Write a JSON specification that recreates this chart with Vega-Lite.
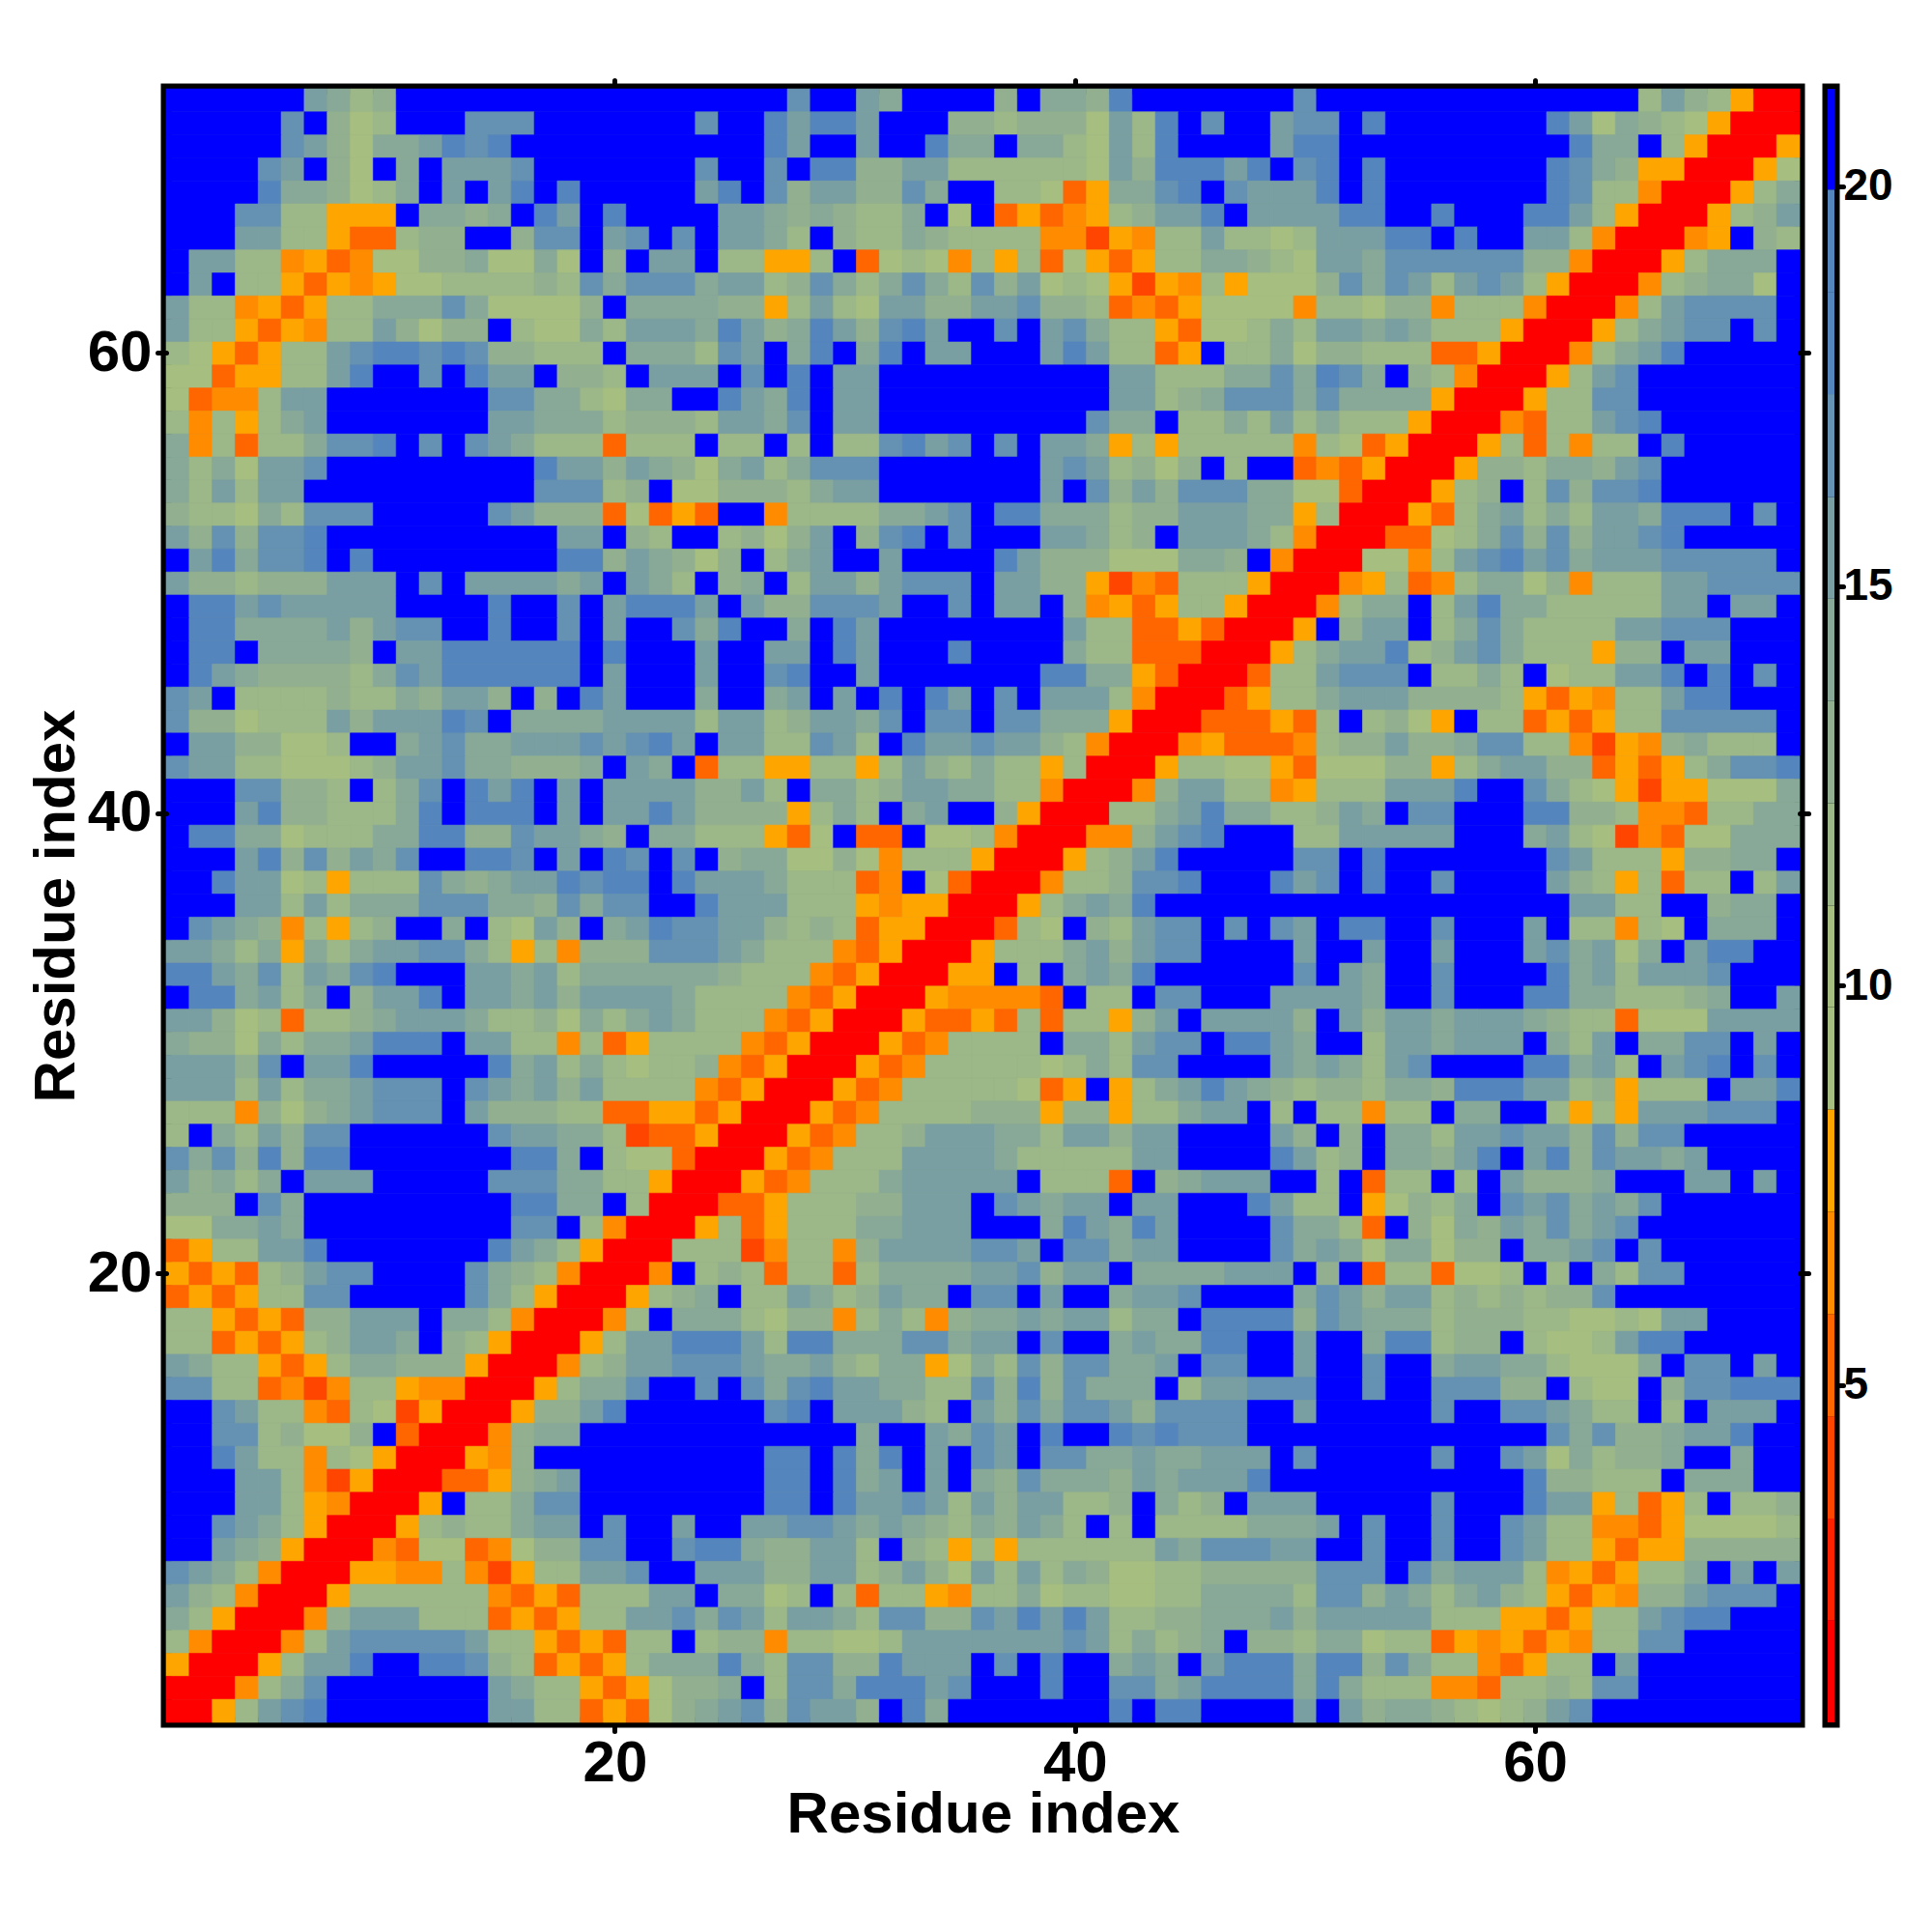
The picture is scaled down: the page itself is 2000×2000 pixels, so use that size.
{"$schema":"https://vega.github.io/schema/vega-lite/v6.json","padding":{"left":22,"top":75,"right":30,"bottom":60},"background":"white","config":{"font":"Liberation Sans"},"bounds":"flush","spacing":29,"hconcat":[{"width":1691,"height":1691,"view":{"stroke":"black","strokeWidth":11,"fill":"#88A997"},"resolve":{"axis":{"x":"independent","y":"independent"}},"layer":[{"data":{"values":"a,b,r,v\n1,7,71,21\n7,8,71,15\n8,9,71,14\n9,10,71,12\n10,11,71,13\n11,28,71,21\n28,29,71,17\n29,31,71,21\n31,32,71,15\n32,33,71,14\n33,37,71,21\n37,38,71,13\n38,39,71,21\n39,41,71,14\n41,42,71,13\n42,43,71,18\n43,50,71,21\n50,51,71,17\n51,65,71,21\n65,66,71,12\n66,67,71,15\n67,68,71,13\n68,69,71,11\n69,70,71,8\n70,72,71,1\n1,6,70,21\n6,7,70,17\n7,8,70,21\n8,9,70,13\n9,10,70,10\n10,11,70,12\n11,14,70,21\n14,17,70,17\n17,24,70,21\n24,25,70,17\n25,27,70,21\n27,28,70,18\n28,29,70,15\n29,31,70,18\n31,32,70,15\n32,35,70,21\n35,37,70,13\n37,38,70,12\n38,41,70,13\n41,42,70,10\n42,43,70,15\n43,44,70,11\n44,45,70,18\n45,46,70,21\n46,47,70,17\n47,49,70,21\n49,50,70,15\n50,52,70,17\n52,53,70,21\n53,54,70,18\n54,61,70,21\n61,62,70,18\n62,63,70,15\n63,64,70,10\n64,65,70,14\n65,66,70,13\n66,67,70,12\n67,68,70,10\n68,69,70,8\n69,72,70,1\n1,6,69,21\n6,7,69,17\n7,8,69,15\n8,9,69,13\n9,10,69,10\n10,12,69,14\n12,13,69,15\n13,14,69,18\n14,15,69,17\n15,16,69,18\n16,27,69,21\n27,28,69,18\n28,29,69,16\n29,31,69,21\n31,32,69,15\n32,34,69,21\n34,35,69,18\n35,37,69,14\n37,38,69,21\n38,40,69,14\n40,41,69,12\n41,42,69,10\n42,43,69,15\n43,44,69,11\n44,45,69,18\n45,49,69,21\n49,50,69,16\n50,52,69,18\n52,62,69,21\n62,63,69,18\n63,65,69,14\n65,66,69,21\n66,67,69,11\n67,68,69,8\n68,71,69,1\n71,72,69,8\n1,5,68,21\n5,6,68,17\n6,7,68,15\n7,8,68,21\n8,9,68,13\n9,10,68,10\n10,11,68,21\n11,12,68,14\n12,13,68,21\n13,15,68,15\n15,16,68,16\n16,17,68,17\n17,24,68,21\n24,25,68,17\n25,27,68,21\n27,28,68,17\n28,29,68,21\n29,31,68,18\n31,33,68,13\n33,35,68,16\n35,40,68,12\n40,41,68,11\n41,42,68,10\n42,43,68,15\n43,44,68,13\n44,47,68,18\n47,48,68,15\n48,49,68,18\n49,50,68,21\n50,51,68,17\n51,52,68,18\n52,53,68,21\n53,54,68,18\n54,61,68,21\n61,62,68,18\n62,63,68,17\n63,64,68,14\n64,65,68,13\n65,67,68,8\n67,70,68,1\n70,71,68,8\n71,72,68,10\n1,5,67,21\n5,6,67,18\n6,8,67,14\n8,9,67,13\n9,10,67,10\n10,11,67,12\n11,12,67,14\n12,13,67,21\n13,14,67,16\n14,15,67,21\n15,16,67,16\n16,17,67,18\n17,18,67,21\n18,19,67,18\n19,24,67,21\n24,25,67,16\n25,26,67,18\n26,27,67,21\n27,28,67,17\n28,29,67,13\n29,31,67,16\n31,33,67,13\n33,34,67,17\n34,35,67,14\n35,37,67,21\n37,39,67,11\n39,40,67,10\n40,41,67,5\n41,42,67,8\n42,44,67,14\n44,45,67,17\n45,46,67,18\n46,47,67,21\n47,48,67,17\n48,49,67,16\n49,50,67,15\n50,51,67,16\n51,52,67,18\n52,53,67,21\n53,54,67,18\n54,61,67,21\n61,62,67,18\n62,63,67,17\n63,64,67,12\n64,65,67,11\n65,66,67,7\n66,69,67,1\n69,70,67,8\n70,71,67,11\n71,72,67,14\n1,4,66,21\n4,6,66,17\n6,8,66,12\n8,11,66,8\n11,12,66,21\n12,14,66,14\n14,15,66,13\n15,16,66,14\n16,17,66,21\n17,18,66,18\n18,19,66,16\n19,20,66,21\n20,21,66,18\n21,25,66,21\n25,27,66,16\n27,28,66,14\n28,29,66,13\n29,30,66,14\n30,31,66,13\n31,33,66,11\n33,34,66,14\n34,35,66,21\n35,36,66,10\n36,37,66,21\n37,38,66,5\n38,39,66,8\n39,40,66,5\n40,41,66,7\n41,42,66,8\n42,43,66,12\n43,44,66,13\n44,46,66,16\n46,47,66,18\n47,48,66,21\n48,49,66,16\n49,51,66,15\n51,52,66,16\n52,54,66,18\n54,56,66,21\n56,57,66,18\n57,60,66,21\n60,62,66,18\n62,63,66,16\n63,64,66,11\n64,65,66,8\n65,68,66,1\n68,69,66,8\n69,70,66,11\n70,71,66,13\n71,72,66,15\n1,4,65,21\n4,5,65,16\n5,6,65,15\n6,7,65,12\n7,8,65,11\n8,9,65,8\n9,11,65,5\n11,12,65,12\n12,14,65,13\n14,16,65,21\n16,17,65,13\n17,19,65,17\n19,20,65,21\n20,21,65,16\n21,22,65,17\n22,23,65,21\n23,24,65,17\n24,25,65,21\n25,27,65,15\n27,28,65,14\n28,29,65,11\n29,30,65,21\n30,31,65,13\n31,33,65,11\n33,34,65,14\n34,35,65,13\n35,36,65,12\n36,39,65,11\n39,41,65,7\n41,42,65,4\n42,43,65,8\n43,44,65,7\n44,46,65,12\n46,47,65,15\n47,49,65,12\n49,50,65,10\n50,51,65,12\n51,52,65,15\n52,54,65,16\n54,56,65,18\n56,57,65,21\n57,58,65,18\n58,60,65,21\n60,61,65,16\n61,62,65,15\n62,63,65,11\n63,64,65,7\n64,67,65,1\n67,68,65,7\n68,69,65,8\n69,70,65,21\n70,71,65,13\n71,72,65,12\n1,2,64,21\n2,4,64,16\n4,6,64,11\n6,7,64,7\n7,8,64,8\n8,9,64,5\n9,10,64,7\n10,12,64,10\n12,14,64,13\n14,15,64,14\n15,17,64,10\n17,18,64,14\n18,19,64,10\n19,20,64,21\n20,21,64,13\n21,22,64,21\n22,23,64,16\n23,24,64,15\n24,25,64,21\n25,27,64,12\n27,29,64,8\n29,30,64,11\n30,31,64,21\n31,32,64,5\n32,33,64,10\n33,34,64,11\n34,35,64,10\n35,36,64,7\n36,37,64,11\n37,38,64,8\n38,39,64,11\n39,40,64,5\n40,41,64,10\n41,42,64,8\n42,43,64,5\n43,44,64,8\n44,46,64,11\n46,48,64,14\n48,49,64,13\n49,50,64,11\n50,51,64,10\n51,53,64,15\n53,54,64,14\n54,60,64,17\n60,62,64,13\n62,63,64,7\n63,66,64,1\n66,67,64,8\n67,68,64,12\n68,71,64,14\n71,72,64,21\n1,2,63,21\n2,3,63,16\n3,4,63,21\n4,5,63,12\n5,6,63,11\n6,7,63,8\n7,8,63,5\n8,9,63,8\n9,10,63,7\n10,11,63,8\n11,13,63,10\n13,17,63,11\n17,18,63,13\n18,19,63,12\n19,20,63,17\n20,21,63,14\n21,24,63,17\n24,25,63,14\n25,27,63,16\n27,28,63,12\n28,29,63,13\n29,30,63,17\n30,31,63,14\n31,32,63,11\n32,33,63,14\n33,34,63,17\n34,35,63,14\n35,36,63,12\n36,37,63,17\n37,38,63,13\n38,39,63,16\n39,40,63,10\n40,41,63,12\n41,42,63,10\n42,43,63,8\n43,44,63,4\n44,45,63,8\n45,46,63,7\n46,47,63,12\n47,48,63,8\n48,51,63,10\n51,52,63,13\n52,53,63,17\n53,54,63,14\n54,55,63,17\n55,56,63,15\n56,57,63,12\n57,58,63,15\n58,59,63,17\n59,60,63,15\n60,61,63,11\n61,62,63,8\n62,65,63,1\n65,66,63,7\n66,67,63,12\n67,68,63,13\n68,70,63,14\n70,71,63,10\n71,72,63,21\n1,2,62,16\n2,4,62,12\n4,5,62,7\n5,6,62,8\n6,7,62,5\n7,8,62,8\n8,10,62,12\n10,13,62,14\n13,14,62,17\n14,15,62,14\n15,19,62,10\n19,20,62,13\n20,21,62,21\n21,25,62,14\n25,27,62,13\n27,28,62,8\n28,29,62,11\n29,30,62,15\n30,31,62,12\n31,32,62,10\n32,34,62,15\n34,36,62,13\n36,37,62,16\n37,38,62,15\n38,39,62,17\n39,41,62,13\n41,42,62,11\n42,43,62,5\n43,44,62,7\n44,45,62,5\n45,46,62,8\n46,50,62,10\n50,51,62,7\n51,53,62,12\n53,54,62,10\n54,56,62,13\n56,57,62,7\n57,58,62,11\n58,59,62,12\n59,60,62,11\n60,61,62,7\n61,64,62,1\n64,65,62,7\n65,66,62,11\n66,67,62,15\n67,71,62,17\n71,72,62,21\n1,2,61,15\n2,3,61,12\n3,4,61,11\n4,5,61,8\n5,6,61,5\n6,7,61,8\n7,8,61,7\n8,10,61,12\n10,11,61,15\n11,12,61,13\n12,13,61,10\n13,15,61,13\n15,16,61,21\n16,17,61,12\n17,19,61,10\n19,20,61,14\n20,21,61,11\n21,24,61,16\n24,25,61,14\n25,26,61,18\n26,27,61,15\n27,28,61,13\n28,29,61,14\n29,30,61,18\n30,31,61,15\n31,32,61,13\n32,33,61,17\n33,34,61,18\n34,35,61,15\n35,37,61,21\n37,38,61,17\n38,39,61,21\n39,40,61,15\n40,41,61,17\n41,42,61,14\n42,44,61,12\n44,45,61,8\n45,46,61,5\n46,48,61,10\n48,49,61,12\n49,50,61,14\n50,51,61,12\n51,53,61,16\n53,54,61,14\n54,55,61,16\n55,56,61,14\n56,59,61,11\n59,60,61,8\n60,63,61,1\n63,64,61,8\n64,65,61,12\n65,66,61,14\n66,67,61,16\n67,69,61,17\n69,70,61,21\n70,71,61,17\n71,72,61,21\n1,2,60,11\n2,3,60,10\n3,4,60,8\n4,5,60,5\n5,6,60,8\n6,8,60,11\n8,9,60,15\n9,10,60,17\n10,12,60,18\n12,13,60,17\n13,14,60,18\n14,15,60,17\n15,17,60,13\n17,20,60,11\n20,21,60,21\n21,24,60,14\n24,25,60,12\n25,26,60,17\n26,27,60,15\n27,28,60,21\n28,29,60,14\n29,30,60,18\n30,31,60,21\n31,32,60,14\n32,33,60,18\n33,34,60,21\n34,36,60,16\n36,39,60,21\n39,40,60,15\n40,41,60,18\n41,42,60,15\n42,44,60,12\n44,45,60,5\n45,46,60,8\n46,47,60,21\n47,48,60,12\n48,49,60,11\n49,50,60,14\n50,51,60,10\n51,53,60,13\n53,56,60,12\n56,58,60,5\n58,59,60,8\n59,62,60,1\n62,63,60,7\n63,64,60,11\n64,65,60,14\n65,66,60,16\n66,67,60,18\n67,72,60,21\n1,3,59,10\n3,4,59,5\n4,6,59,8\n6,8,59,12\n8,9,59,16\n9,10,59,18\n10,12,59,21\n12,13,59,17\n13,14,59,21\n14,15,59,18\n15,17,59,15\n17,18,59,21\n18,20,59,13\n20,21,59,11\n21,22,59,21\n22,25,59,16\n25,26,59,21\n26,27,59,17\n27,28,59,21\n28,29,59,18\n29,30,59,21\n30,32,59,16\n32,42,59,21\n42,44,59,15\n44,47,59,11\n47,49,59,14\n49,50,59,17\n50,51,59,14\n51,52,59,18\n52,53,59,17\n53,54,59,14\n54,55,59,21\n55,56,59,13\n56,57,59,11\n57,58,59,7\n58,61,59,1\n61,62,59,8\n62,63,59,11\n63,64,59,15\n64,65,59,17\n65,72,59,21\n1,2,58,10\n2,3,58,5\n3,5,58,7\n5,6,58,11\n6,7,58,15\n7,8,58,16\n8,15,58,21\n15,17,58,17\n17,19,58,14\n19,20,58,12\n20,21,58,10\n21,23,58,14\n23,25,58,21\n25,26,58,18\n26,27,58,15\n27,28,58,14\n28,29,58,18\n29,30,58,21\n30,32,58,16\n32,42,58,21\n42,44,58,16\n44,45,58,12\n45,46,58,13\n46,47,58,14\n47,50,58,17\n50,51,58,14\n51,52,58,17\n52,56,58,14\n56,57,58,8\n57,60,58,1\n60,61,58,8\n61,63,58,12\n63,65,58,17\n65,72,58,21\n1,2,57,11\n2,3,57,7\n3,4,57,11\n4,5,57,8\n5,6,57,12\n6,7,57,14\n7,8,57,16\n8,15,57,21\n15,17,57,16\n17,20,57,14\n20,21,57,11\n21,24,57,13\n24,25,57,12\n25,27,57,16\n27,28,57,14\n28,29,57,17\n29,30,57,21\n30,32,57,16\n32,41,57,21\n41,42,57,17\n42,44,57,14\n44,45,57,21\n45,47,57,11\n47,48,57,14\n48,49,57,12\n49,50,57,16\n50,51,57,12\n51,52,57,14\n52,55,57,12\n55,56,57,8\n56,59,57,1\n59,60,57,7\n60,61,57,5\n61,63,57,11\n63,64,57,15\n64,65,57,17\n65,66,57,18\n66,72,57,21\n1,2,56,14\n2,3,56,7\n3,4,56,11\n4,5,56,5\n5,7,56,11\n7,8,56,14\n8,10,56,17\n10,11,56,18\n11,12,56,21\n12,13,56,17\n13,14,56,21\n14,15,56,17\n15,16,56,15\n16,17,56,14\n17,20,56,12\n20,21,56,5\n21,24,56,11\n24,25,56,21\n25,27,56,12\n27,28,56,21\n28,29,56,12\n29,30,56,21\n30,32,56,12\n32,33,56,17\n33,34,56,18\n34,35,56,15\n35,36,56,17\n36,37,56,21\n37,38,56,17\n38,39,56,21\n39,41,56,16\n41,42,56,14\n42,43,56,8\n43,44,56,12\n44,45,56,8\n45,50,56,12\n50,51,56,7\n51,52,56,11\n52,53,56,10\n53,54,56,5\n54,55,56,8\n55,58,56,1\n58,59,56,8\n59,60,56,11\n60,61,56,5\n61,62,56,11\n62,63,56,7\n63,65,56,12\n65,66,56,21\n66,67,56,18\n67,72,56,21\n1,2,55,14\n2,3,55,11\n3,4,55,14\n4,5,55,10\n5,7,55,16\n7,8,55,17\n8,17,55,21\n17,18,55,18\n18,20,55,16\n20,21,55,13\n21,22,55,15\n22,23,55,14\n23,24,55,13\n24,25,55,10\n25,26,55,14\n26,27,55,15\n27,28,55,12\n28,29,55,14\n29,32,55,17\n32,39,55,21\n39,40,55,16\n40,41,55,17\n41,42,55,15\n42,43,55,12\n43,44,55,13\n44,45,55,10\n45,46,55,13\n46,47,55,21\n47,48,55,12\n48,50,55,21\n50,51,55,5\n51,52,55,7\n52,53,55,5\n53,54,55,8\n54,57,55,1\n57,58,55,8\n58,60,55,13\n60,61,55,11\n61,63,55,14\n63,64,55,13\n64,65,55,16\n65,66,55,17\n66,72,55,21\n1,2,54,14\n2,3,54,11\n3,4,54,16\n4,5,54,12\n5,7,54,16\n7,17,54,21\n17,20,54,17\n20,21,54,12\n21,22,54,13\n22,23,54,21\n23,25,54,10\n25,28,54,13\n28,29,54,11\n29,30,54,14\n30,32,54,16\n32,39,54,21\n39,40,54,16\n40,41,54,21\n41,42,54,17\n42,43,54,13\n43,44,54,16\n44,45,54,13\n45,48,54,17\n48,50,54,14\n50,52,54,10\n52,53,54,5\n53,56,54,1\n56,57,54,8\n57,58,54,11\n58,59,54,13\n59,60,54,21\n60,61,54,12\n61,62,54,17\n62,63,54,13\n63,65,54,17\n65,66,54,18\n66,72,54,21\n1,2,53,13\n2,3,53,11\n3,4,53,12\n4,5,53,10\n5,6,53,14\n6,7,53,12\n7,10,53,17\n10,15,53,21\n15,16,53,17\n16,17,53,15\n17,20,53,13\n20,21,53,5\n21,22,53,10\n22,23,53,5\n23,24,53,8\n24,25,53,5\n25,27,53,21\n27,28,53,7\n28,29,53,11\n29,32,53,12\n32,34,53,14\n34,35,53,16\n35,36,53,17\n36,37,53,21\n37,39,53,18\n39,42,53,14\n42,43,53,11\n43,45,53,13\n45,48,53,16\n48,50,53,14\n50,51,53,8\n51,52,53,11\n52,55,53,1\n55,56,53,8\n56,57,53,5\n57,58,53,12\n58,59,53,14\n59,60,53,16\n60,61,53,12\n61,62,53,14\n62,63,53,11\n63,65,53,15\n65,66,53,14\n66,69,53,18\n69,70,53,21\n70,71,53,17\n71,72,53,21\n1,2,52,16\n2,3,52,13\n3,4,52,17\n4,5,52,13\n5,7,52,17\n7,8,52,18\n8,18,52,21\n18,20,52,16\n20,21,52,21\n21,22,52,13\n22,23,52,11\n23,25,52,21\n25,26,52,11\n26,27,52,13\n27,28,52,10\n28,29,52,13\n29,30,52,15\n30,31,52,21\n31,32,52,13\n32,33,52,17\n33,34,52,18\n34,35,52,21\n35,36,52,17\n36,39,52,21\n39,41,52,16\n41,42,52,14\n42,43,52,11\n43,44,52,13\n44,45,52,21\n45,48,52,16\n48,49,52,14\n49,50,52,12\n50,51,52,7\n51,54,52,1\n54,56,52,5\n56,57,52,10\n57,58,52,12\n58,59,52,14\n59,60,52,17\n60,61,52,13\n61,62,52,17\n62,63,52,13\n63,64,52,16\n64,65,52,15\n65,66,52,17\n66,67,52,18\n67,72,52,21\n1,2,51,21\n2,3,51,16\n3,4,51,18\n4,5,51,14\n5,7,51,17\n7,8,51,18\n8,9,51,21\n9,10,51,18\n10,18,51,21\n18,20,51,18\n20,21,51,13\n21,22,51,16\n22,23,51,14\n23,24,51,13\n24,25,51,10\n25,26,51,13\n26,27,51,21\n27,28,51,11\n28,29,51,14\n29,30,51,16\n30,32,51,21\n32,33,51,16\n33,37,51,21\n37,38,51,18\n38,39,51,16\n39,42,51,13\n42,45,51,10\n45,47,51,14\n47,48,51,13\n48,49,51,21\n49,50,51,7\n50,53,51,1\n53,55,51,10\n55,56,51,7\n56,57,51,11\n57,58,51,15\n58,59,51,17\n59,60,51,18\n60,61,51,15\n61,62,51,17\n62,63,51,14\n63,66,51,16\n66,71,51,17\n71,72,51,21\n1,2,50,16\n2,4,50,13\n4,5,50,11\n5,8,50,13\n8,11,50,15\n11,12,50,21\n12,13,50,17\n13,14,50,21\n14,18,50,16\n18,19,50,14\n19,20,50,16\n20,21,50,21\n21,22,50,15\n22,23,50,14\n23,24,50,12\n24,25,50,21\n25,26,50,13\n26,27,50,14\n27,28,50,21\n28,29,50,11\n29,31,50,15\n31,32,50,13\n32,33,50,16\n33,36,50,17\n36,37,50,21\n37,39,50,16\n39,41,50,13\n41,42,50,8\n42,43,50,4\n43,44,50,7\n44,45,50,5\n45,47,50,12\n47,48,50,11\n48,49,50,8\n49,52,50,1\n52,53,50,7\n53,54,50,8\n54,55,50,11\n55,56,50,5\n56,57,50,7\n57,58,50,12\n58,60,50,14\n60,61,50,10\n61,62,50,13\n62,63,50,7\n63,66,50,11\n66,68,50,16\n68,72,50,17\n1,2,49,21\n2,4,49,18\n4,5,49,15\n5,6,49,17\n6,11,49,15\n11,15,49,21\n15,16,49,18\n16,18,49,21\n18,19,49,17\n19,20,49,21\n20,21,49,15\n21,24,49,18\n24,25,49,16\n25,26,49,21\n26,27,49,16\n27,29,49,13\n29,32,49,17\n32,33,49,15\n33,35,49,21\n35,36,49,17\n36,37,49,21\n37,39,49,16\n39,40,49,21\n40,41,49,13\n41,42,49,7\n42,43,49,8\n43,44,49,5\n44,45,49,8\n45,46,49,12\n46,47,49,11\n47,48,49,8\n48,51,49,1\n51,52,49,7\n52,53,49,11\n53,55,49,14\n55,56,49,21\n56,57,49,12\n57,58,49,16\n58,59,49,18\n59,61,49,14\n61,66,49,11\n66,68,49,15\n68,69,49,21\n69,71,49,16\n71,72,49,21\n1,2,48,21\n2,4,48,18\n4,8,48,14\n8,9,48,16\n9,10,48,13\n10,11,48,15\n11,13,48,17\n13,15,48,21\n15,16,48,18\n16,18,48,21\n18,19,48,17\n19,20,48,21\n20,21,48,15\n21,23,48,21\n23,24,48,17\n24,25,48,14\n25,26,48,18\n26,28,48,21\n28,29,48,14\n29,30,48,21\n30,31,48,18\n31,32,48,15\n32,40,48,21\n40,41,48,15\n41,43,48,12\n43,45,48,5\n45,46,48,8\n46,47,48,5\n47,50,48,1\n50,51,48,8\n51,52,48,21\n52,53,48,13\n53,55,48,15\n55,56,48,21\n56,57,48,12\n57,58,48,14\n58,59,48,17\n59,60,48,14\n60,64,48,11\n64,66,48,15\n66,69,48,17\n69,72,48,21\n1,2,47,21\n2,4,47,18\n4,5,47,21\n5,9,47,14\n9,10,47,13\n10,11,47,21\n11,13,47,16\n13,19,47,18\n19,20,47,21\n20,21,47,18\n21,24,47,21\n24,25,47,16\n25,27,47,21\n27,29,47,15\n29,30,47,21\n30,31,47,18\n31,32,47,15\n32,35,47,21\n35,36,47,18\n36,40,47,21\n40,41,47,14\n41,43,47,12\n43,46,47,5\n46,49,47,1\n49,50,47,8\n50,51,47,11\n51,52,47,14\n52,54,47,16\n54,55,47,18\n55,56,47,12\n56,57,47,13\n57,58,47,15\n58,59,47,17\n59,60,47,14\n60,63,47,11\n63,64,47,8\n64,66,47,13\n66,67,47,21\n67,69,47,16\n69,72,47,21\n1,2,46,21\n2,3,46,18\n3,4,46,16\n4,5,46,14\n5,9,46,13\n9,10,46,12\n10,11,46,14\n11,12,46,17\n12,13,46,16\n13,19,46,18\n19,20,46,21\n20,21,46,16\n21,24,46,21\n24,25,46,16\n25,27,46,21\n27,28,46,17\n28,29,46,18\n29,31,46,21\n31,32,46,15\n32,39,46,21\n39,41,46,18\n41,43,46,14\n43,44,46,8\n44,45,46,5\n45,48,46,1\n48,49,46,5\n49,51,46,12\n51,52,46,15\n52,55,46,17\n55,56,46,21\n56,58,46,12\n58,59,46,14\n59,60,46,12\n60,61,46,21\n61,62,46,10\n62,64,46,12\n64,66,46,15\n66,67,46,18\n67,68,46,21\n68,69,46,18\n69,70,46,21\n70,71,46,17\n71,72,46,21\n1,2,45,17\n2,3,45,16\n3,4,45,21\n4,5,45,12\n5,6,45,11\n6,7,45,12\n7,8,45,11\n8,9,45,13\n9,11,45,12\n11,12,45,14\n12,13,45,13\n13,15,45,16\n15,16,45,13\n16,17,45,21\n17,18,45,13\n18,19,45,21\n19,20,45,18\n20,21,45,15\n21,24,45,21\n24,25,45,14\n25,27,45,21\n27,28,45,14\n28,29,45,16\n29,30,45,21\n30,31,45,15\n31,32,45,21\n32,33,45,18\n33,34,45,21\n34,35,45,18\n35,36,45,16\n36,37,45,21\n37,38,45,17\n38,39,45,21\n39,42,45,15\n42,43,45,12\n43,44,45,7\n44,47,45,1\n47,48,45,5\n48,49,45,8\n49,51,45,12\n51,52,45,14\n52,53,45,16\n53,54,45,15\n54,55,45,16\n55,59,45,13\n59,60,45,11\n60,61,45,8\n61,62,45,5\n62,63,45,8\n63,64,45,7\n64,66,45,12\n66,67,45,16\n67,69,45,18\n69,72,45,21\n1,2,44,17\n2,4,44,13\n4,5,44,10\n5,8,44,11\n8,9,44,16\n9,10,44,13\n10,12,44,15\n12,13,44,16\n13,14,44,18\n14,15,44,17\n15,16,44,21\n16,20,44,14\n20,24,44,15\n24,25,44,12\n25,27,44,16\n27,28,44,12\n28,29,44,13\n29,31,44,16\n31,32,44,14\n32,33,44,17\n33,34,44,21\n34,36,44,17\n36,37,44,21\n37,39,44,17\n39,42,44,14\n42,43,44,8\n43,46,44,1\n46,49,44,5\n49,50,44,8\n50,51,44,5\n51,52,44,11\n52,53,44,21\n53,54,44,12\n54,55,44,13\n55,56,44,10\n56,57,44,8\n57,58,44,21\n58,60,44,12\n60,61,44,5\n61,62,44,8\n62,63,44,5\n63,64,44,8\n64,66,44,11\n66,71,44,17\n71,72,44,21\n1,2,43,21\n2,4,43,16\n4,6,43,13\n6,8,43,10\n8,9,43,12\n9,11,43,21\n11,12,43,14\n12,13,43,15\n13,14,43,17\n14,16,43,14\n16,17,43,15\n17,18,43,16\n18,19,43,15\n19,20,43,17\n20,21,43,15\n21,22,43,17\n22,23,43,18\n23,24,43,16\n24,25,43,21\n25,27,43,16\n27,29,43,12\n29,30,43,17\n30,31,43,15\n31,32,43,11\n32,33,43,21\n33,34,43,18\n34,35,43,16\n35,36,43,15\n36,37,43,17\n37,39,43,15\n39,40,43,13\n40,41,43,11\n41,42,43,7\n42,45,43,1\n45,46,43,7\n46,47,43,8\n47,50,43,5\n50,51,43,7\n51,52,43,11\n52,54,43,13\n54,55,43,15\n55,57,43,13\n57,58,43,14\n58,60,43,17\n60,62,43,11\n62,63,43,7\n63,64,43,4\n64,65,43,8\n65,66,43,7\n66,67,43,13\n67,68,43,14\n68,70,43,12\n70,71,43,11\n71,72,43,21\n1,2,42,17\n2,3,42,16\n3,4,42,15\n4,6,42,11\n6,9,42,10\n9,10,42,12\n10,11,42,13\n11,13,42,16\n13,14,42,17\n14,16,42,14\n16,19,42,13\n19,20,42,14\n20,21,42,21\n21,22,42,15\n22,23,42,14\n23,24,42,21\n24,25,42,5\n25,27,42,12\n27,29,42,8\n29,31,42,12\n31,32,42,8\n32,33,42,11\n33,34,42,15\n34,35,42,13\n35,36,42,12\n36,37,42,14\n37,39,42,12\n39,40,42,8\n40,41,42,11\n41,44,42,1\n44,45,42,8\n45,47,42,12\n47,49,42,10\n49,50,42,8\n50,51,42,5\n51,54,42,10\n54,56,42,13\n56,57,42,8\n57,58,42,12\n58,59,42,14\n59,61,42,16\n61,63,42,13\n63,64,42,5\n64,65,42,8\n65,66,42,5\n66,67,42,8\n67,68,42,12\n68,69,42,14\n69,71,42,17\n71,72,42,18\n1,4,41,21\n4,6,41,17\n6,8,41,13\n8,9,41,12\n9,10,41,21\n10,11,41,12\n11,12,41,14\n12,13,41,17\n13,14,41,21\n14,15,41,18\n15,16,41,15\n16,17,41,18\n17,18,41,21\n18,19,41,15\n19,20,41,21\n20,24,41,16\n24,26,41,13\n26,27,41,15\n27,28,41,12\n28,29,41,21\n29,31,41,14\n31,32,41,12\n32,33,41,13\n33,35,41,16\n35,37,41,14\n37,39,41,12\n39,40,41,7\n40,43,41,1\n43,44,41,7\n44,45,41,13\n45,47,41,16\n47,49,41,12\n49,50,41,7\n50,51,41,8\n51,54,41,12\n54,57,41,15\n57,58,41,18\n58,60,41,21\n60,61,41,17\n61,62,41,14\n62,63,41,11\n63,64,41,10\n64,65,41,8\n65,66,41,4\n66,68,41,8\n68,71,41,10\n71,72,41,14\n1,4,40,21\n4,5,40,15\n5,6,40,18\n6,8,40,13\n8,10,40,11\n10,11,40,12\n11,12,40,14\n12,13,40,18\n13,14,40,21\n14,17,40,18\n17,18,40,21\n18,19,40,15\n19,20,40,21\n20,22,40,16\n22,23,40,18\n23,24,40,16\n24,28,40,13\n28,29,40,8\n29,30,40,12\n30,31,40,14\n31,32,40,12\n32,33,40,21\n33,34,40,14\n34,35,40,15\n35,37,40,21\n37,38,40,13\n38,39,40,8\n39,42,40,1\n42,44,40,11\n44,45,40,14\n45,46,40,16\n46,47,40,18\n47,49,40,14\n49,51,40,12\n51,52,40,13\n52,53,40,15\n53,54,40,14\n54,55,40,21\n55,57,40,17\n57,60,40,21\n60,62,40,18\n62,64,40,13\n64,65,40,11\n65,67,40,7\n67,68,40,5\n68,70,40,11\n70,72,40,14\n1,2,39,21\n2,4,39,18\n4,6,39,14\n6,7,39,10\n7,8,39,12\n8,9,39,11\n9,10,39,12\n10,12,39,14\n12,14,39,18\n14,16,39,13\n16,17,39,17\n17,19,39,16\n19,20,39,14\n20,21,39,13\n21,22,39,21\n22,24,39,14\n24,27,39,11\n27,28,39,8\n28,29,39,5\n29,30,39,10\n30,31,39,21\n31,33,39,5\n33,34,39,21\n34,36,39,10\n36,37,39,11\n37,38,39,7\n38,41,39,1\n41,43,39,7\n43,44,39,13\n44,45,39,15\n45,46,39,17\n46,47,39,18\n47,50,39,21\n50,52,39,12\n52,53,39,15\n53,57,39,16\n57,60,39,21\n60,61,39,14\n61,62,39,15\n62,63,39,12\n63,64,39,10\n64,65,39,4\n65,66,39,7\n66,67,39,5\n67,69,39,10\n69,72,39,14\n1,4,38,21\n4,5,38,16\n5,6,38,18\n6,7,38,13\n7,8,38,17\n8,9,38,13\n9,10,38,15\n10,11,38,14\n11,12,38,17\n12,14,38,21\n14,16,38,18\n16,17,38,17\n17,18,38,21\n18,19,38,16\n19,20,38,21\n20,21,38,18\n21,22,38,17\n22,23,38,21\n23,24,38,17\n24,25,38,21\n25,26,38,13\n26,28,38,14\n28,30,38,10\n30,31,38,13\n31,32,38,10\n32,33,38,7\n33,35,38,12\n35,36,38,11\n36,37,38,8\n37,40,38,1\n40,41,38,8\n41,42,38,11\n42,43,38,13\n43,44,38,15\n44,45,38,18\n45,50,38,21\n50,52,38,17\n52,53,38,21\n53,54,38,18\n54,61,38,21\n61,62,38,17\n62,63,38,15\n63,66,38,11\n66,67,38,8\n67,69,38,13\n69,71,38,14\n71,72,38,21\n1,3,37,21\n3,4,37,18\n4,5,37,16\n5,6,37,15\n6,7,37,10\n7,8,37,12\n8,9,37,8\n9,10,37,12\n10,12,37,11\n12,13,37,17\n13,14,37,14\n14,15,37,13\n15,16,37,14\n16,17,37,16\n17,18,37,15\n18,19,37,18\n19,20,37,17\n20,22,37,18\n22,23,37,21\n23,24,37,18\n24,25,37,16\n25,27,37,15\n27,28,37,14\n28,30,37,11\n30,31,37,12\n31,32,37,5\n32,33,37,7\n33,34,37,21\n34,35,37,10\n35,36,37,5\n36,39,37,1\n39,40,37,7\n40,41,37,11\n41,42,37,12\n42,43,37,13\n43,45,37,17\n45,46,37,18\n46,49,37,21\n49,50,37,18\n50,51,37,16\n51,52,37,17\n52,53,37,21\n53,54,37,18\n54,56,37,21\n56,57,37,17\n57,61,37,21\n61,62,37,15\n62,63,37,13\n63,64,37,12\n64,65,37,8\n65,66,37,11\n66,67,37,5\n67,69,37,11\n69,70,37,21\n70,71,37,12\n71,72,37,15\n1,4,36,21\n4,6,36,16\n6,7,36,12\n7,8,36,15\n8,9,36,12\n9,12,36,14\n12,15,36,17\n15,17,36,14\n17,18,36,13\n18,19,36,17\n19,20,36,14\n20,22,36,17\n22,24,36,21\n24,25,36,18\n25,27,36,16\n27,28,36,15\n28,31,36,12\n31,32,36,8\n32,33,36,7\n33,35,36,8\n35,38,36,1\n38,39,36,8\n39,40,36,11\n40,41,36,14\n41,42,36,15\n42,43,36,14\n43,44,36,18\n44,62,36,21\n62,64,36,15\n64,66,36,12\n66,68,36,21\n68,69,36,13\n69,71,36,14\n71,72,36,21\n1,2,35,21\n2,3,35,17\n3,4,35,15\n4,5,35,14\n5,6,35,13\n6,7,35,7\n7,8,35,12\n8,9,35,8\n9,10,35,12\n10,11,35,13\n11,13,35,21\n13,14,35,14\n14,15,35,21\n15,16,35,12\n16,17,35,10\n17,18,35,15\n18,19,35,13\n19,20,35,21\n20,21,35,14\n21,22,35,16\n22,23,35,18\n23,25,35,17\n25,26,35,16\n26,27,35,15\n27,28,35,13\n28,29,35,12\n29,30,35,13\n30,31,35,12\n31,32,35,5\n32,34,35,8\n34,37,35,1\n37,38,35,5\n38,39,35,11\n39,40,35,10\n40,41,35,21\n41,42,35,13\n42,43,35,12\n43,44,35,15\n44,46,35,17\n46,47,35,21\n47,48,35,17\n48,49,35,21\n49,50,35,17\n50,51,35,15\n51,52,35,21\n52,54,35,18\n54,56,35,21\n56,57,35,17\n57,60,35,21\n60,61,35,16\n61,62,35,21\n62,64,35,12\n64,65,35,7\n65,66,35,12\n66,67,35,10\n67,68,35,21\n68,71,35,14\n71,72,35,21\n1,3,34,15\n3,4,34,14\n4,5,34,12\n5,6,34,14\n6,7,34,8\n7,8,34,14\n8,9,34,11\n9,10,34,14\n10,11,34,16\n11,12,34,15\n12,14,34,17\n14,15,34,14\n15,16,34,11\n16,17,34,8\n17,18,34,12\n18,19,34,7\n19,22,34,13\n22,25,34,17\n25,26,34,15\n26,27,34,14\n27,30,34,11\n30,31,34,7\n31,32,34,5\n32,33,34,8\n33,36,34,1\n36,37,34,8\n37,38,34,11\n38,39,34,12\n39,40,34,11\n40,41,34,14\n41,42,34,16\n42,43,34,13\n43,44,34,16\n44,46,34,17\n46,50,34,21\n50,51,34,16\n51,53,34,21\n53,54,34,16\n54,56,34,21\n56,57,34,16\n57,60,34,21\n60,61,34,16\n61,62,34,17\n62,63,34,14\n63,64,34,15\n64,65,34,10\n65,66,34,14\n66,67,34,21\n67,68,34,15\n68,70,34,18\n70,72,34,21\n1,3,33,18\n3,4,33,16\n4,5,33,14\n5,6,33,17\n6,7,33,12\n7,8,33,16\n8,9,33,14\n9,10,33,17\n10,11,33,18\n11,14,33,21\n14,16,33,16\n16,17,33,14\n17,18,33,16\n18,19,33,11\n19,25,33,14\n25,26,33,13\n26,29,33,11\n29,30,33,7\n30,31,33,5\n31,32,33,8\n32,35,33,1\n35,37,33,8\n37,38,33,21\n38,39,33,12\n39,40,33,21\n40,41,33,14\n41,42,33,16\n42,43,33,14\n43,44,33,18\n44,50,33,21\n50,51,33,17\n51,52,33,21\n52,53,33,16\n53,54,33,14\n54,56,33,21\n56,57,33,17\n57,61,33,21\n61,62,33,18\n62,63,33,14\n63,64,33,16\n64,65,33,12\n65,66,33,16\n66,67,33,15\n67,68,33,16\n68,69,33,17\n69,72,33,21\n1,2,32,21\n2,4,32,18\n4,5,32,14\n5,6,32,16\n6,7,32,11\n7,8,32,14\n8,9,32,21\n9,10,32,13\n10,12,32,16\n12,13,32,18\n13,14,32,21\n14,16,32,16\n16,17,32,14\n17,18,32,16\n18,19,32,13\n19,20,32,16\n20,23,32,15\n23,24,32,14\n24,28,32,11\n28,29,32,7\n29,30,32,5\n30,31,32,8\n31,34,32,1\n34,35,32,8\n35,39,32,7\n39,40,32,5\n40,41,32,21\n41,43,32,11\n43,44,32,21\n44,46,32,17\n46,49,32,21\n49,53,32,16\n53,54,32,14\n54,56,32,21\n56,57,32,17\n57,60,32,21\n60,62,32,18\n62,64,32,14\n64,67,32,11\n67,68,32,13\n68,69,32,14\n69,71,32,21\n71,72,32,15\n1,2,31,16\n2,3,31,15\n3,4,31,13\n4,5,31,10\n5,6,31,11\n6,7,31,5\n7,9,31,11\n9,10,31,13\n10,11,31,14\n11,12,31,15\n12,14,31,16\n14,15,31,14\n15,16,31,12\n16,17,31,11\n17,18,31,13\n18,19,31,10\n19,20,31,14\n20,21,31,12\n21,22,31,14\n22,23,31,15\n23,24,31,14\n24,26,31,12\n26,27,31,11\n27,28,31,7\n28,29,31,5\n29,30,31,8\n30,33,31,1\n33,34,31,8\n34,36,31,5\n36,37,31,8\n37,38,31,5\n38,39,31,11\n39,40,31,5\n40,42,31,11\n42,43,31,8\n43,44,31,13\n44,45,31,15\n45,46,31,21\n46,49,31,16\n49,50,31,15\n50,51,31,13\n51,52,31,21\n52,53,31,15\n53,54,31,13\n54,56,31,16\n56,57,31,14\n57,58,31,15\n58,60,31,16\n60,61,31,14\n61,62,31,13\n62,63,31,11\n63,64,31,12\n64,65,31,5\n65,68,31,10\n68,72,31,15\n1,2,30,14\n2,4,30,13\n4,5,30,10\n5,6,30,14\n6,7,30,11\n7,9,30,14\n9,10,30,16\n10,13,30,18\n13,14,30,21\n14,15,30,16\n15,16,30,15\n16,18,30,12\n18,19,30,7\n19,20,30,11\n20,21,30,5\n21,22,30,8\n22,26,30,12\n26,27,30,7\n27,28,30,5\n28,29,30,8\n29,32,30,1\n32,33,30,8\n33,34,30,5\n34,35,30,7\n35,36,30,11\n36,39,30,12\n39,40,30,21\n40,42,30,14\n42,43,30,12\n43,44,30,15\n44,46,30,17\n46,47,30,21\n47,49,30,18\n49,50,30,16\n50,51,30,14\n51,53,30,21\n53,54,30,12\n54,56,30,16\n56,57,30,14\n57,60,30,16\n60,61,30,21\n61,62,30,14\n62,63,30,12\n63,64,30,15\n64,65,30,21\n65,67,30,14\n67,69,30,17\n69,70,30,21\n70,71,30,16\n71,72,30,21\n1,4,29,16\n4,5,29,13\n5,6,29,17\n6,7,29,21\n7,9,29,16\n9,10,29,18\n10,15,29,21\n15,16,29,18\n16,17,29,14\n17,18,29,16\n18,19,29,12\n19,20,29,14\n20,21,29,12\n21,22,29,10\n22,23,29,12\n23,24,29,11\n24,25,29,13\n25,26,29,7\n26,27,29,5\n27,28,29,8\n28,31,29,1\n31,32,29,8\n32,33,29,5\n33,34,29,7\n34,36,29,11\n36,38,29,12\n38,39,29,11\n39,40,29,10\n40,41,29,11\n41,42,29,14\n42,43,29,12\n43,45,29,17\n45,49,29,21\n49,50,29,16\n50,51,29,14\n51,52,29,16\n52,53,29,14\n53,54,29,12\n54,55,29,16\n55,56,29,17\n56,60,29,21\n60,62,29,18\n62,63,29,14\n63,64,29,16\n64,65,29,12\n65,66,29,21\n66,67,29,15\n67,68,29,17\n68,69,29,18\n69,70,29,21\n70,71,29,17\n71,72,29,21\n1,4,28,16\n4,5,28,11\n5,6,28,15\n6,7,28,11\n7,9,28,14\n9,10,28,15\n10,13,28,17\n13,14,28,21\n14,15,28,17\n15,16,28,16\n16,17,28,14\n17,18,28,16\n18,19,28,13\n19,20,28,15\n20,24,28,11\n24,25,28,7\n25,26,28,5\n26,27,28,8\n27,30,28,1\n30,31,28,8\n31,32,28,5\n32,33,28,7\n33,36,28,11\n36,37,28,12\n37,38,28,11\n38,39,28,10\n39,40,28,5\n40,41,28,8\n41,42,28,21\n42,43,28,8\n43,44,28,12\n44,45,28,14\n45,46,28,16\n46,47,28,18\n47,48,28,15\n48,49,28,14\n49,50,28,13\n50,51,28,11\n51,53,28,13\n53,54,28,11\n54,56,28,14\n56,57,28,13\n57,60,28,18\n60,62,28,15\n62,63,28,12\n63,64,28,13\n64,65,28,8\n65,68,28,12\n68,69,28,21\n69,71,28,16\n71,72,28,18\n1,2,27,12\n2,4,27,11\n4,5,27,7\n5,6,27,13\n6,7,27,10\n7,8,27,13\n8,9,27,14\n9,10,27,15\n10,13,27,17\n13,14,27,21\n14,15,27,15\n15,18,27,13\n18,20,27,11\n20,22,27,5\n22,24,27,8\n24,25,27,5\n25,26,27,8\n26,29,27,1\n29,30,27,8\n30,31,27,5\n31,32,27,7\n32,36,27,11\n36,39,27,13\n39,40,27,8\n40,42,27,13\n42,43,27,8\n43,45,27,11\n45,46,27,14\n46,48,27,16\n48,49,27,21\n49,50,27,12\n50,51,27,21\n51,53,27,11\n53,54,27,7\n54,56,27,12\n56,57,27,21\n57,59,27,14\n59,61,27,21\n61,62,27,12\n62,63,27,8\n63,64,27,12\n64,65,27,8\n65,68,27,15\n68,71,27,17\n71,72,27,21\n1,2,26,12\n2,3,26,21\n3,4,26,14\n4,5,26,12\n5,6,26,15\n6,7,26,13\n7,9,26,17\n9,15,26,21\n15,16,26,17\n16,18,26,16\n18,20,26,14\n20,21,26,11\n21,22,26,4\n22,24,26,5\n24,25,26,8\n25,28,26,1\n28,29,26,8\n29,30,26,5\n30,31,26,7\n31,33,26,11\n33,34,26,13\n34,37,26,15\n37,39,26,14\n39,40,26,12\n40,42,26,15\n42,43,26,13\n43,45,26,16\n45,49,26,21\n49,50,26,16\n50,51,26,13\n51,52,26,21\n52,53,26,13\n53,54,26,21\n54,56,26,14\n56,57,26,12\n57,59,26,16\n59,60,26,17\n60,62,26,15\n62,63,26,13\n63,64,26,17\n64,65,26,13\n65,67,26,17\n67,72,26,21\n1,2,25,17\n2,3,25,14\n3,4,25,17\n4,5,25,13\n5,6,25,18\n6,7,25,13\n7,9,25,18\n9,16,25,21\n16,18,25,18\n18,19,25,14\n19,20,25,21\n20,21,25,12\n21,23,25,10\n23,24,25,5\n24,27,25,1\n27,28,25,8\n28,29,25,5\n29,30,25,7\n30,33,25,11\n33,37,25,15\n37,38,25,14\n38,39,25,12\n39,40,25,11\n40,43,25,12\n43,44,25,16\n44,45,25,15\n45,49,25,21\n49,50,25,18\n50,51,25,15\n51,52,25,12\n52,53,25,13\n53,54,25,21\n54,56,25,14\n56,57,25,13\n57,58,25,16\n58,59,25,18\n59,60,25,21\n60,61,25,16\n61,62,25,18\n62,63,25,13\n63,64,25,17\n64,66,25,15\n66,67,25,14\n67,68,25,16\n68,72,25,21\n1,2,24,15\n2,3,24,13\n3,4,24,14\n4,5,24,11\n5,6,24,14\n6,7,24,21\n7,10,24,16\n10,15,24,21\n15,18,24,17\n18,20,24,14\n20,21,24,12\n21,22,24,11\n22,23,24,8\n23,26,24,1\n26,27,24,8\n27,28,24,5\n28,29,24,7\n29,32,24,11\n32,33,24,14\n33,38,24,15\n38,39,24,21\n39,41,24,11\n41,42,24,12\n42,43,24,5\n43,44,24,21\n44,45,24,13\n45,46,24,14\n46,49,24,15\n49,51,24,21\n51,52,24,12\n52,53,24,21\n53,54,24,5\n54,56,24,11\n56,57,24,21\n57,58,24,12\n58,59,24,21\n59,60,24,16\n60,63,24,13\n63,64,24,14\n64,67,24,21\n67,69,24,16\n69,70,24,21\n70,71,24,16\n71,72,24,21\n1,4,23,13\n4,5,23,21\n5,6,23,17\n6,7,23,14\n7,16,23,21\n16,18,23,18\n18,20,23,14\n20,21,23,21\n21,22,23,11\n22,25,23,1\n25,27,23,5\n27,28,23,8\n28,31,23,11\n31,33,23,13\n33,36,23,16\n36,37,23,21\n37,38,23,17\n38,39,23,16\n39,40,23,14\n40,42,23,16\n42,43,23,21\n43,45,23,15\n45,48,23,21\n48,49,23,18\n49,50,23,15\n50,52,23,12\n52,53,23,21\n53,54,23,8\n54,55,23,10\n55,56,23,13\n56,57,23,12\n57,58,23,14\n58,59,23,21\n59,60,23,17\n60,61,23,15\n61,62,23,17\n62,63,23,14\n63,64,23,16\n64,65,23,14\n65,66,23,17\n66,72,23,21\n1,3,22,10\n3,5,22,14\n5,6,22,16\n6,7,22,14\n7,16,22,21\n16,18,22,17\n18,19,22,21\n19,20,22,12\n20,21,22,7\n21,24,22,1\n24,25,22,8\n25,26,22,11\n26,27,22,5\n27,28,22,8\n28,31,22,12\n31,33,22,14\n33,36,22,16\n36,39,22,21\n39,40,22,14\n40,41,22,18\n41,42,22,16\n42,43,22,14\n43,44,22,18\n44,45,22,15\n45,49,22,21\n49,50,22,17\n50,52,22,14\n52,53,22,11\n53,54,22,5\n54,55,22,21\n55,56,22,13\n56,57,22,10\n57,58,22,14\n58,59,22,13\n59,60,22,16\n60,61,22,14\n61,62,22,17\n62,63,22,14\n63,64,22,16\n64,65,22,17\n65,72,22,21\n1,2,21,5\n2,3,21,8\n3,5,21,11\n5,7,21,15\n7,8,21,18\n8,15,21,21\n15,16,21,18\n16,17,21,16\n17,18,21,14\n18,19,21,12\n19,20,21,8\n20,23,21,1\n23,26,21,11\n26,27,21,4\n27,28,21,7\n28,30,21,11\n30,31,21,7\n31,32,21,13\n32,36,21,15\n36,38,21,17\n38,39,21,16\n39,40,21,21\n40,42,21,17\n42,43,21,14\n43,44,21,16\n44,45,21,15\n45,49,21,21\n49,50,21,17\n50,51,21,14\n51,52,21,16\n52,53,21,14\n53,54,21,10\n54,56,21,14\n56,57,21,10\n57,59,21,13\n59,60,21,21\n60,62,21,14\n62,63,21,16\n63,64,21,17\n64,65,21,21\n65,66,21,17\n66,72,21,21\n1,2,20,8\n2,3,20,5\n3,4,20,8\n4,5,20,5\n5,6,20,11\n6,7,20,13\n7,8,20,15\n8,10,20,17\n10,14,20,21\n14,15,20,17\n15,16,20,14\n16,17,20,13\n17,18,20,11\n18,19,20,7\n19,22,20,1\n22,23,20,7\n23,24,20,21\n24,25,20,12\n25,26,20,13\n26,27,20,11\n27,28,20,5\n28,30,20,12\n30,31,20,5\n31,32,20,11\n32,36,20,14\n36,38,20,15\n38,39,20,17\n39,40,20,13\n40,42,20,16\n42,43,20,21\n43,47,20,14\n47,49,20,16\n49,50,20,15\n50,51,20,21\n51,52,20,13\n52,53,20,21\n53,54,20,5\n54,56,20,12\n56,57,20,5\n57,59,20,10\n59,60,20,12\n60,61,20,21\n61,62,20,12\n62,63,20,21\n63,64,20,14\n64,65,20,12\n65,67,20,17\n67,72,20,21\n1,2,19,5\n2,3,19,8\n3,4,19,5\n4,5,19,8\n5,6,19,11\n6,7,19,12\n7,9,19,17\n9,14,19,21\n14,15,19,17\n15,16,19,14\n16,17,19,11\n17,18,19,8\n18,21,19,1\n21,22,19,8\n22,23,19,12\n23,24,19,13\n24,25,19,14\n25,26,19,21\n26,28,19,12\n28,29,19,15\n29,30,19,14\n30,31,19,12\n31,32,19,13\n32,33,19,16\n33,35,19,14\n35,36,19,21\n36,38,19,17\n38,39,19,21\n39,40,19,15\n40,42,19,21\n42,43,19,14\n43,45,19,16\n45,46,19,17\n46,50,19,21\n50,51,19,14\n51,52,19,17\n52,53,19,16\n53,54,19,13\n54,56,19,15\n56,57,19,11\n57,58,19,13\n58,59,19,11\n59,60,19,13\n60,61,19,12\n61,63,19,13\n63,64,19,17\n64,72,19,21\n1,3,18,12\n3,4,18,8\n4,5,18,5\n5,6,18,8\n6,7,18,5\n7,9,18,13\n9,12,18,16\n12,13,18,21\n13,15,18,14\n15,16,18,12\n16,17,18,7\n17,20,18,1\n20,21,18,7\n21,22,18,12\n22,23,18,21\n23,26,18,14\n26,27,18,12\n27,28,18,10\n28,30,18,13\n30,31,18,7\n31,32,18,11\n32,33,18,14\n33,34,18,12\n34,35,18,7\n35,36,18,13\n36,38,18,14\n38,39,18,16\n39,40,18,14\n40,42,18,16\n42,43,18,12\n43,45,18,14\n45,46,18,21\n46,50,18,18\n50,51,18,13\n51,52,18,17\n52,53,18,16\n53,56,18,14\n56,57,18,12\n57,60,18,13\n60,62,18,11\n62,64,18,10\n64,65,18,11\n65,66,18,10\n66,67,18,15\n67,68,18,16\n68,72,18,21\n1,3,17,12\n3,4,17,5\n4,5,17,8\n5,6,17,5\n6,7,17,8\n7,8,17,11\n8,9,17,13\n9,11,17,16\n11,12,17,14\n12,13,17,21\n13,14,17,13\n14,15,17,12\n15,16,17,8\n16,19,17,1\n19,20,17,8\n20,21,17,11\n21,23,17,15\n23,26,17,18\n26,27,17,15\n27,28,17,12\n28,30,17,18\n30,33,17,14\n33,35,17,17\n35,36,17,14\n36,38,17,16\n38,39,17,21\n39,40,17,17\n40,42,17,21\n42,43,17,14\n43,44,17,16\n44,46,17,14\n46,48,17,18\n48,50,17,21\n50,51,17,15\n51,53,17,21\n53,54,17,14\n54,56,17,18\n56,57,17,12\n57,59,17,13\n59,60,17,21\n60,61,17,11\n61,63,17,10\n63,64,17,11\n64,65,17,16\n65,67,17,18\n67,72,17,21\n1,2,16,16\n2,3,16,14\n3,5,16,11\n5,6,16,8\n6,7,16,5\n7,8,16,8\n8,9,16,11\n9,11,16,14\n11,14,16,13\n14,15,16,8\n15,18,16,1\n18,19,16,7\n19,20,16,11\n20,21,16,13\n21,23,16,16\n23,26,16,17\n26,27,16,16\n27,29,16,14\n29,30,16,15\n30,31,16,13\n31,32,16,12\n32,34,16,14\n34,35,16,8\n35,36,16,10\n36,37,16,14\n37,38,16,12\n38,39,16,17\n39,40,16,13\n40,42,16,17\n42,44,16,14\n44,45,16,16\n45,46,16,21\n46,48,16,17\n48,50,16,21\n50,51,16,15\n51,53,16,21\n53,54,16,17\n54,56,16,21\n56,57,16,14\n57,59,16,16\n59,61,16,14\n61,62,16,12\n62,65,16,10\n65,66,16,14\n66,67,16,21\n67,69,16,17\n69,70,16,21\n70,71,16,16\n71,72,16,21\n1,3,15,17\n3,5,15,12\n5,6,15,5\n6,7,15,7\n7,8,15,4\n8,9,15,7\n9,11,15,11\n11,12,15,8\n12,14,15,7\n14,17,15,1\n17,18,15,8\n18,19,15,11\n19,21,15,14\n21,22,15,17\n22,24,15,21\n24,25,15,17\n25,26,15,21\n26,27,15,17\n27,28,15,14\n28,29,15,17\n29,30,15,18\n30,32,15,15\n32,34,15,14\n34,36,15,11\n36,37,15,17\n37,38,15,13\n38,39,15,18\n39,40,15,13\n40,41,15,17\n41,44,15,14\n44,45,15,21\n45,46,15,12\n46,48,15,16\n48,51,15,17\n51,53,15,21\n53,54,15,17\n54,56,15,21\n56,59,15,17\n59,61,15,13\n61,62,15,21\n62,63,15,11\n63,65,15,10\n65,66,15,21\n66,67,15,13\n67,69,15,17\n69,72,15,18\n1,3,14,21\n3,4,14,17\n4,5,14,15\n5,7,14,12\n7,8,14,7\n8,9,14,5\n9,10,14,11\n10,11,14,10\n11,12,14,4\n12,13,14,8\n13,16,14,1\n16,17,14,8\n17,19,14,13\n19,20,14,16\n20,21,14,18\n21,27,14,21\n27,28,14,17\n28,29,14,18\n29,30,14,21\n30,33,14,16\n33,34,14,13\n34,35,14,12\n35,36,14,21\n36,37,14,15\n37,38,14,13\n38,39,14,17\n39,40,14,14\n40,42,14,17\n42,43,14,16\n43,44,14,13\n44,48,14,17\n48,50,14,21\n50,51,14,16\n51,56,14,21\n56,57,14,17\n57,59,14,21\n59,61,14,17\n61,62,14,15\n62,63,14,14\n63,65,14,11\n65,66,14,21\n66,67,14,12\n67,68,14,21\n68,69,14,15\n69,71,14,16\n71,72,14,21\n1,3,13,21\n3,5,13,17\n5,6,13,12\n6,7,13,13\n7,9,13,10\n9,10,13,13\n10,11,13,21\n11,12,13,5\n12,15,13,1\n15,16,13,7\n16,17,13,13\n17,19,13,14\n19,31,13,21\n31,32,13,14\n32,34,13,21\n34,35,13,16\n35,36,13,14\n36,37,13,17\n37,38,13,15\n38,39,13,21\n39,40,13,18\n40,42,13,21\n42,43,13,18\n43,44,13,17\n44,45,13,18\n45,48,13,17\n48,61,13,21\n61,62,13,17\n62,63,13,14\n63,64,13,17\n64,66,13,13\n66,67,13,14\n67,69,13,15\n69,70,13,18\n70,72,13,21\n1,3,12,21\n3,4,12,18\n4,5,12,16\n5,7,12,12\n7,8,12,7\n8,9,12,11\n9,10,12,10\n10,11,12,8\n11,14,12,1\n14,15,12,8\n15,16,12,7\n16,17,12,13\n17,27,12,21\n27,29,12,18\n29,30,12,21\n30,31,12,18\n31,32,12,14\n32,33,12,18\n33,34,12,21\n34,35,12,15\n35,36,12,21\n36,37,12,17\n37,38,12,16\n38,39,12,21\n39,41,12,17\n41,43,12,14\n43,44,12,15\n44,46,12,14\n46,49,12,15\n49,50,12,21\n50,51,12,17\n51,56,12,21\n56,57,12,17\n57,59,12,21\n59,60,12,17\n60,61,12,15\n61,62,12,10\n62,63,12,14\n63,64,12,11\n64,66,12,13\n66,67,12,14\n67,69,12,21\n69,70,12,14\n70,72,12,21\n1,4,11,21\n4,5,11,16\n5,6,11,15\n6,7,11,12\n7,8,11,7\n8,9,11,4\n9,10,11,8\n10,13,11,1\n13,15,11,5\n15,16,11,8\n16,17,11,13\n17,18,11,14\n18,19,11,16\n19,27,11,21\n27,29,11,18\n29,30,11,21\n30,31,11,18\n31,32,11,14\n32,33,11,15\n33,34,11,21\n34,35,11,15\n35,36,11,21\n36,37,11,14\n37,38,11,13\n38,39,11,17\n39,42,11,14\n42,43,11,13\n43,44,11,15\n44,45,11,14\n45,48,11,16\n48,49,11,18\n49,60,11,21\n60,61,11,18\n61,63,11,13\n63,66,11,11\n66,67,11,21\n67,70,11,14\n70,72,11,21\n1,4,10,21\n4,5,10,16\n5,6,10,15\n6,7,10,12\n7,8,10,8\n8,9,10,7\n9,12,10,1\n12,13,10,8\n13,14,10,21\n14,16,10,11\n16,17,10,14\n17,19,10,17\n19,27,10,21\n27,29,10,18\n29,30,10,21\n30,31,10,18\n31,33,10,15\n33,34,10,17\n34,35,10,16\n35,36,10,12\n36,37,10,16\n37,38,10,13\n38,40,10,15\n40,42,10,12\n42,43,10,13\n43,44,10,21\n44,45,10,14\n45,46,10,12\n46,47,10,13\n47,48,10,21\n48,51,10,16\n51,56,10,21\n56,57,10,17\n57,60,10,21\n60,61,10,18\n61,62,10,15\n62,63,10,16\n63,64,10,8\n64,65,10,11\n65,66,10,5\n66,67,10,8\n67,68,10,12\n68,69,10,21\n69,71,10,12\n71,72,10,13\n1,3,9,21\n3,4,9,17\n4,5,9,15\n5,6,9,14\n6,7,9,11\n7,8,9,8\n8,11,9,1\n11,12,9,8\n12,13,9,11\n13,14,9,13\n14,16,9,11\n16,17,9,14\n17,19,9,16\n19,20,9,21\n20,21,9,17\n21,23,9,21\n23,24,9,15\n24,26,9,21\n26,28,9,15\n28,30,9,17\n30,31,9,15\n31,32,9,14\n32,33,9,16\n33,34,9,14\n34,35,9,13\n35,36,9,12\n36,37,9,14\n37,38,9,13\n38,39,9,15\n39,40,9,14\n40,41,9,11\n41,42,9,21\n42,43,9,12\n43,44,9,21\n44,48,9,12\n48,51,9,14\n51,52,9,16\n52,53,9,21\n53,54,9,17\n54,56,9,21\n56,57,9,17\n57,59,9,21\n59,60,9,17\n60,61,9,15\n61,63,9,12\n63,65,9,7\n65,66,9,5\n66,67,9,8\n67,71,9,10\n71,72,9,12\n1,3,8,21\n3,4,8,15\n4,5,8,14\n5,6,8,13\n6,7,8,8\n7,10,8,1\n10,11,8,7\n11,12,8,5\n12,14,8,10\n14,15,8,5\n15,16,8,7\n16,17,8,10\n17,19,8,13\n19,21,8,17\n21,23,8,21\n23,24,8,17\n24,26,8,18\n26,27,8,14\n27,29,8,13\n29,31,8,15\n31,32,8,11\n32,33,8,21\n33,34,8,13\n34,35,8,11\n35,36,8,8\n36,37,8,11\n37,38,8,8\n38,41,8,12\n41,44,8,11\n44,45,8,16\n45,46,8,14\n46,49,8,17\n49,51,8,16\n51,53,8,21\n53,54,8,17\n54,56,8,21\n56,57,8,17\n57,59,8,21\n59,60,8,17\n60,61,8,15\n61,63,8,12\n63,64,8,8\n64,65,8,5\n65,67,8,8\n67,72,8,13\n1,2,7,17\n2,3,7,16\n3,4,7,14\n4,5,7,11\n5,6,7,7\n6,9,7,1\n9,11,7,8\n11,13,7,7\n13,14,7,11\n14,15,7,7\n15,16,7,4\n16,17,7,8\n17,18,7,11\n18,19,7,12\n19,20,7,16\n20,21,7,15\n21,22,7,17\n22,24,7,21\n24,27,7,16\n27,29,7,13\n29,31,7,15\n31,32,7,12\n32,33,7,13\n33,34,7,15\n34,35,7,13\n35,36,7,10\n36,37,7,15\n37,38,7,11\n38,39,7,15\n39,40,7,12\n40,41,7,14\n41,42,7,13\n42,44,7,10\n44,46,7,11\n46,51,7,13\n51,54,7,17\n54,55,7,21\n55,56,7,17\n56,57,7,14\n57,60,7,16\n60,61,7,12\n61,62,7,7\n62,63,7,8\n63,64,7,5\n64,65,7,8\n65,67,7,11\n67,68,7,14\n68,69,7,21\n69,70,7,15\n70,71,7,21\n71,72,7,16\n1,2,6,16\n2,3,6,13\n3,4,6,11\n4,5,6,7\n5,8,6,1\n8,9,6,8\n9,15,6,11\n15,16,6,7\n16,17,6,5\n17,18,6,8\n18,19,6,5\n19,22,6,12\n22,24,6,15\n24,25,6,21\n25,27,6,14\n27,28,6,10\n28,29,6,11\n29,30,6,21\n30,31,6,11\n31,32,6,5\n32,33,6,11\n33,34,6,12\n34,35,6,8\n35,36,6,7\n36,37,6,12\n37,38,6,11\n38,39,6,14\n39,40,6,10\n40,42,6,12\n42,44,6,10\n44,46,6,12\n46,50,6,14\n50,51,6,12\n51,53,6,17\n53,54,6,13\n54,55,6,16\n55,56,6,14\n56,57,6,11\n57,58,6,14\n58,59,6,15\n59,60,6,13\n60,61,6,11\n61,62,6,8\n62,63,6,5\n63,64,6,8\n64,65,6,7\n65,67,6,13\n67,68,6,16\n68,71,6,17\n71,72,6,21\n1,2,5,14\n2,3,5,11\n3,4,5,8\n4,7,5,1\n7,8,5,7\n8,9,5,13\n9,12,5,15\n12,14,5,12\n14,15,5,11\n15,16,5,5\n16,17,5,8\n17,18,5,5\n18,19,5,8\n19,21,5,11\n21,22,5,15\n22,23,5,16\n23,24,5,17\n24,25,5,14\n25,26,5,17\n26,27,5,15\n27,28,5,12\n28,29,5,15\n29,30,5,16\n30,31,5,14\n31,32,5,12\n32,34,5,17\n34,36,5,13\n36,37,5,17\n37,38,5,15\n38,39,5,18\n39,40,5,15\n40,41,5,18\n41,42,5,15\n42,44,5,12\n44,46,5,13\n46,49,5,14\n49,50,5,16\n50,51,5,13\n51,53,5,16\n53,54,5,15\n54,56,5,16\n56,57,5,11\n57,59,5,12\n59,61,5,8\n61,62,5,5\n62,63,5,8\n63,65,5,11\n65,66,5,15\n66,67,5,17\n67,69,5,18\n69,72,5,21\n1,2,4,11\n2,3,4,7\n3,6,4,1\n6,7,4,7\n7,8,4,12\n8,9,4,15\n9,14,4,17\n14,15,4,15\n15,16,4,12\n16,17,4,11\n17,18,4,8\n18,19,4,5\n19,20,4,8\n20,21,4,5\n21,23,4,12\n23,24,4,21\n24,25,4,12\n25,27,4,13\n27,28,4,7\n28,30,4,12\n30,32,4,10\n32,33,4,11\n33,36,4,15\n36,39,4,16\n39,40,4,15\n40,41,4,17\n41,42,4,15\n42,43,4,12\n43,44,4,14\n44,45,4,11\n45,46,4,13\n46,47,4,14\n47,48,4,21\n48,50,4,13\n50,51,4,11\n51,53,4,14\n53,54,4,10\n54,56,4,12\n56,57,4,5\n57,58,4,8\n58,59,4,7\n59,60,4,8\n60,61,4,5\n61,62,4,8\n62,63,4,7\n63,65,4,11\n65,67,4,17\n67,72,4,21\n1,2,3,8\n2,5,3,1\n5,6,3,8\n6,7,3,11\n7,9,3,15\n9,10,3,18\n10,12,3,21\n12,14,3,18\n14,15,3,17\n15,16,3,13\n16,17,3,12\n17,18,3,5\n18,19,3,8\n19,20,3,5\n20,21,3,8\n21,22,3,11\n22,25,3,14\n25,26,3,18\n26,27,3,14\n27,28,3,12\n28,30,3,17\n30,32,3,13\n32,33,3,18\n33,34,3,15\n34,36,3,16\n36,37,3,21\n37,38,3,17\n38,39,3,21\n39,40,3,18\n40,42,3,21\n42,43,3,14\n43,44,3,16\n44,45,3,14\n45,46,3,21\n46,47,3,15\n47,50,3,18\n50,51,3,14\n51,53,3,18\n53,54,3,13\n54,55,3,17\n55,56,3,14\n56,58,3,11\n58,59,3,7\n59,60,3,5\n60,61,3,8\n61,63,3,11\n63,64,3,21\n64,65,3,15\n65,72,3,21\n1,4,2,1\n4,5,2,7\n5,6,2,11\n6,7,2,14\n7,8,2,17\n8,15,2,21\n15,16,2,16\n16,17,2,14\n17,19,2,11\n19,20,2,8\n20,21,2,5\n21,22,2,8\n22,23,2,10\n23,25,2,13\n25,26,2,14\n26,27,2,21\n27,28,2,12\n28,30,2,17\n30,31,2,14\n31,34,2,18\n34,35,2,15\n35,36,2,17\n36,39,2,21\n39,40,2,18\n40,42,2,21\n42,44,2,17\n44,45,2,14\n45,46,2,16\n46,50,2,18\n50,51,2,14\n51,52,2,18\n52,53,2,14\n53,54,2,11\n54,56,2,12\n56,58,2,7\n58,59,2,5\n59,61,2,11\n61,62,2,13\n62,63,2,12\n63,65,2,17\n65,72,2,21\n1,3,1,1\n3,4,1,8\n4,5,1,11\n5,6,1,15\n6,7,1,17\n7,8,1,18\n8,15,1,21\n15,16,1,16\n16,17,1,15\n17,19,1,11\n19,20,1,5\n20,21,1,8\n21,22,1,5\n22,23,1,10\n23,24,1,13\n24,25,1,14\n25,26,1,16\n26,27,1,17\n27,28,1,13\n28,29,1,17\n29,31,1,16\n31,32,1,13\n32,33,1,21\n33,34,1,18\n34,35,1,14\n35,42,1,21\n42,43,1,18\n43,44,1,21\n44,46,1,18\n46,50,1,21\n50,51,1,16\n51,52,1,21\n52,53,1,16\n53,54,1,13\n54,56,1,14\n56,57,1,13\n57,58,1,11\n58,59,1,10\n59,60,1,11\n60,61,1,13\n61,62,1,15\n62,63,1,17\n63,72,1,21\n","format":{"type":"csv","parse":{"a":"number","b":"number","r":"number","v":"number"}}},"mark":{"type":"rect","strokeWidth":0.6},"encoding":{"x":{"field":"a","type":"quantitative","scale":{"domain":[1,72],"nice":false,"zero":false},"axis":{"values":[20.5,40.5,60.5],"labelExpr":"datum.value-0.5","grid":false,"domain":false,"orient":"bottom","tickSize":9,"tickWidth":5,"tickCap":"round","tickColor":"black","labelFont":"Liberation Sans","labelFontSize":60,"labelFontWeight":"bold","labelColor":"black","labelPadding":4,"title":"Residue index","titleFont":"Liberation Sans","titleFontSize":60,"titleFontWeight":"bold","titleColor":"black","titlePadding":-6}},"x2":{"field":"b"},"y":{"field":"r","type":"ordinal","sort":null,"scale":{"domain":[71,70,69,68,67,66,65,64,63,62,61,60,59,58,57,56,55,54,53,52,51,50,49,48,47,46,45,44,43,42,41,40,39,38,37,36,35,34,33,32,31,30,29,28,27,26,25,24,23,22,21,20,19,18,17,16,15,14,13,12,11,10,9,8,7,6,5,4,3,2,1],"paddingInner":0,"paddingOuter":0},"axis":{"values":[60,40,20],"labelAngle":0,"grid":false,"domain":false,"orient":"left","tickSize":9,"tickWidth":5,"tickCap":"round","tickColor":"black","labelFont":"Liberation Sans","labelFontSize":60,"labelFontWeight":"bold","labelColor":"black","labelPadding":6,"title":"Residue index","titleFont":"Liberation Sans","titleFontSize":60,"titleFontWeight":"bold","titleColor":"black","titlePadding":1}},"fill":{"field":"v","type":"quantitative","legend":null,"scale":{"type":"linear","domain":[0.78,2.05,2.06,3.32,3.33,4.6,4.61,5.88,5.89,7.16,7.17,8.44,8.45,9.72,9.73,10.99,11,12.27,12.28,13.55,13.56,14.83,14.84,16.1,16.11,17.39,17.4,18.67,18.68,19.95,19.96,21.22],"range":["#FF0000","#FF0000","#FF2200","#FF2200","#FF4500","#FF4500","#FF6600","#FF6600","#FF8C00","#FF8C00","#FFA500","#FFA500","#A6BE80","#A6BE80","#A6BE80","#A6BE80","#9CB788","#9CB788","#92B08F","#92B08F","#88A997","#88A997","#7A9FA2","#7A9FA2","#6592B2","#6592B2","#5585BD","#5585BD","#5585BD","#5585BD","#0000FF","#0000FF"]}},"stroke":{"field":"v","type":"quantitative","legend":null,"scale":{"type":"linear","domain":[0.78,2.05,2.06,3.32,3.33,4.6,4.61,5.88,5.89,7.16,7.17,8.44,8.45,9.72,9.73,10.99,11,12.27,12.28,13.55,13.56,14.83,14.84,16.1,16.11,17.39,17.4,18.67,18.68,19.95,19.96,21.22],"range":["#FF0000","#FF0000","#FF2200","#FF2200","#FF4500","#FF4500","#FF6600","#FF6600","#FF8C00","#FF8C00","#FFA500","#FFA500","#A6BE80","#A6BE80","#A6BE80","#A6BE80","#9CB788","#9CB788","#92B08F","#92B08F","#88A997","#88A997","#7A9FA2","#7A9FA2","#6592B2","#6592B2","#5585BD","#5585BD","#5585BD","#5585BD","#0000FF","#0000FF"]}}}},{"data":{"values":[{"a":1,"b":1,"r":71}]},"mark":{"type":"rect"},"encoding":{"x":{"field":"a","type":"quantitative","scale":{"domain":[1,72],"nice":false,"zero":false},"axis":{"values":[20.5,40.5,60.5],"labels":false,"grid":false,"domain":false,"orient":"top","tickSize":9,"tickWidth":5,"tickCap":"round","tickColor":"black","title":null}},"x2":{"field":"b"},"y":{"field":"r","type":"ordinal","axis":{"values":[60,40,20],"labels":false,"grid":false,"domain":false,"orient":"right","tickSize":9,"tickWidth":5,"tickCap":"round","tickColor":"black","title":null}}}}]},{"width":7,"height":1691,"view":{"stroke":"black","strokeWidth":11},"data":{"values":[{"lo":0.78,"hi":2.06,"v":1},{"lo":2.06,"hi":3.33,"v":3},{"lo":3.33,"hi":4.61,"v":4},{"lo":4.61,"hi":5.89,"v":5},{"lo":5.89,"hi":7.17,"v":7},{"lo":7.17,"hi":8.45,"v":8},{"lo":8.45,"hi":9.73,"v":9},{"lo":9.73,"hi":11,"v":10},{"lo":11,"hi":12.28,"v":12},{"lo":12.28,"hi":13.56,"v":13},{"lo":13.56,"hi":14.84,"v":14},{"lo":14.84,"hi":16.11,"v":15},{"lo":16.11,"hi":17.4,"v":17},{"lo":17.4,"hi":18.68,"v":18},{"lo":18.68,"hi":19.96,"v":19},{"lo":19.96,"hi":21.22,"v":21}]},"mark":{"type":"rect"},"encoding":{"y":{"field":"lo","type":"quantitative","scale":{"domain":[0.78,21.22],"nice":false,"zero":false},"axis":{"values":[5,10,15,20],"format":"d","grid":false,"domain":false,"orient":"right","tickSize":9,"tickWidth":5,"tickCap":"round","tickColor":"black","labelFont":"Liberation Sans","labelFontSize":46,"labelFontWeight":"bold","labelColor":"black","labelPadding":0,"title":null}},"y2":{"field":"hi"},"fill":{"field":"v","type":"quantitative","legend":null,"scale":{"type":"linear","domain":[0.78,2.05,2.06,3.32,3.33,4.6,4.61,5.88,5.89,7.16,7.17,8.44,8.45,9.72,9.73,10.99,11,12.27,12.28,13.55,13.56,14.83,14.84,16.1,16.11,17.39,17.4,18.67,18.68,19.95,19.96,21.22],"range":["#FF0000","#FF0000","#FF2200","#FF2200","#FF4500","#FF4500","#FF6600","#FF6600","#FF8C00","#FF8C00","#FFA500","#FFA500","#A6BE80","#A6BE80","#A6BE80","#A6BE80","#9CB788","#9CB788","#92B08F","#92B08F","#88A997","#88A997","#7A9FA2","#7A9FA2","#6592B2","#6592B2","#5585BD","#5585BD","#5585BD","#5585BD","#0000FF","#0000FF"]}}}}]}
